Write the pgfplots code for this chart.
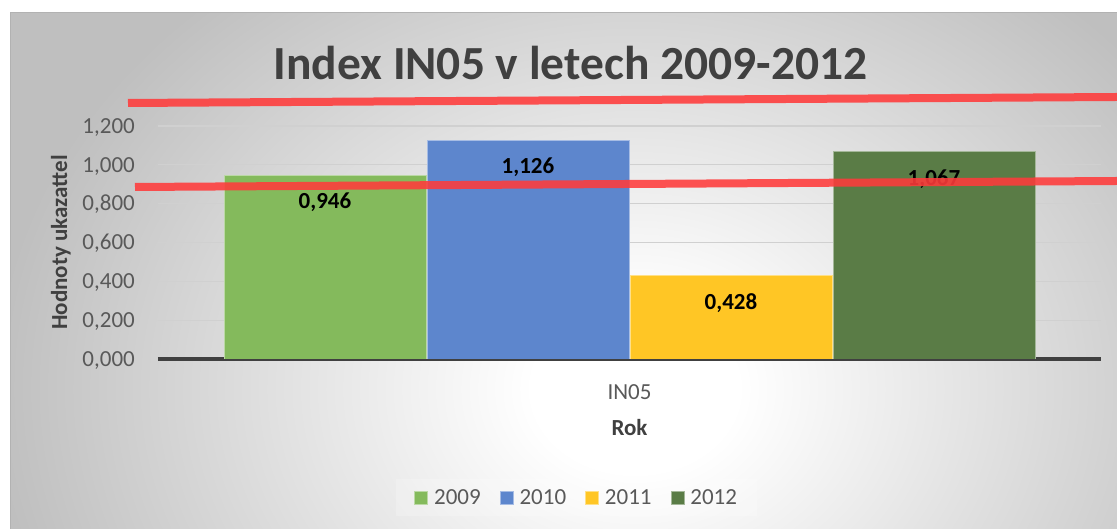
\documentclass[border=0pt]{standalone}
\usepackage{fontspec}
\setmainfont{Carlito}
\usepackage{pgfplots}
\pgfplotsset{compat=1.18}

\definecolor{c2009}{HTML}{84BA5C}
\definecolor{c2010}{HTML}{5D86CD}
\definecolor{c2011}{HTML}{FFC625}
\definecolor{c2012}{HTML}{5A7C46}
\definecolor{txtdark}{HTML}{404040}
\definecolor{txtgray}{HTML}{595959}
\definecolor{gridc}{HTML}{D0D0D0}
\definecolor{redline}{HTML}{FF3B3B}

\pgfdeclareradialshading{bgshade}{\pgfpoint{0bp}{0bp}}{color(0bp)=(white); color(4bp)=(white); color(25bp)=(black!25); color(50bp)=(black!25)}

\newcommand{\fs}[1]{\fontsize{#1}{#1}\selectfont}

\begin{document}
\begin{tikzpicture}[x=1pt,y=1pt]
\useasboundingbox (0,0) rectangle (1117,529);
\fill[white] (0,0) rectangle (1117,529);
% chart area background
\begin{scope}
\clip (10,0) rectangle (1117,516);
\fill[black!25] (10,0) rectangle (1117,516);
\shade[shading=bgshade] (635,140) ellipse [x radius=640, y radius=520];
\end{scope}
\draw[black!30, line width=1pt] (10,0) -- (10,516) -- (1117,516);

\node[font=\fs{47.5}\bfseries, text=txtdark, anchor=base] at (570.5,449) {Index IN05 v letech 2009-2012};

\begin{axis}[
    at={(158pt,170pt)}, anchor=south west,
    scale only axis, width=943pt, height=233pt,
    xmin=-1, xmax=1, ymin=0, ymax=1.2,
    ybar=1pt, bar width=202pt,
    xtick={0}, xticklabels={IN05},
    ytick={0,0.2,0.4,0.6,0.8,1.0,1.2},
    scaled y ticks=false,
    major tick length=0pt,
    axis x line*=bottom, axis y line*=left,
    y axis line style={draw=none},
    x axis line style={draw=txtdark, line width=3.2pt, -},
    ymajorgrids,
    grid style={draw=gridc, line width=1.3pt},
    yticklabel style={anchor=base east, inner sep=0pt, xshift=-23pt, yshift=-7.3pt,
        font=\fs{23}, text=txtgray,
        /pgf/number format/.cd, fixed, fixed zerofill, precision=3, use comma, assume math mode=true},
    xticklabel style={anchor=base, inner sep=0pt, yshift=-41pt, font=\fs{23}, text=txtgray},
    xlabel={Rok},
    xlabel style={font=\fs{23}\bfseries, text=txtdark, at={(axis description cs:0.5,0)}, anchor=base, yshift=-76.4pt},
    ylabel={Hodnoty ukazattel},
    ylabel style={font=\fs{23}\bfseries, text=txtdark, at={(axis description cs:-0.1029,0.5)}, anchor=center},
    nodes near coords,
    every node near coord/.append style={anchor=center, yshift=-27pt, font=\fs{23}\bfseries, text=black,
        /pgf/number format/.cd, fixed, fixed zerofill, precision=3, use comma, assume math mode=true},
    legend columns=4,
    legend style={at={(0.444,-0.594)}, anchor=center, draw=none, fill=white, fill opacity=0.2, text opacity=1,
        font=\fs{23}, text=txtgray, inner xsep=18pt, inner ysep=8pt,
        /tikz/every even column/.append style={column sep=17pt}},
    legend image code/.code={\draw[#1, fill opacity=1, draw opacity=1, line width=0.75pt] (0pt,-6.5pt) rectangle (13pt,6.5pt); \path (17pt,0pt);},
]
\addplot[fill=c2009, draw=c2009!55!white, line width=0.8pt] coordinates {(0,0.946)};
\addlegendentry{2009}
\addplot[fill=c2010, draw=c2010!55!white, line width=0.8pt] coordinates {(0,1.126)};
\addlegendentry{2010}
\addplot[fill=c2011, draw=c2011!55!white, line width=0.8pt] coordinates {(0,0.428)};
\addlegendentry{2011}
\addplot[fill=c2012, draw=c2012!55!white, line width=0.8pt] coordinates {(0,1.067)};
\addlegendentry{2012}
\end{axis}

% red annotation strokes
\draw[redline, opacity=0.88, line width=8pt] (128,426) -- (1117,432);
\draw[redline, opacity=0.88, line width=8pt] (135,342) -- (1117,348);
\end{tikzpicture}
\end{document}
